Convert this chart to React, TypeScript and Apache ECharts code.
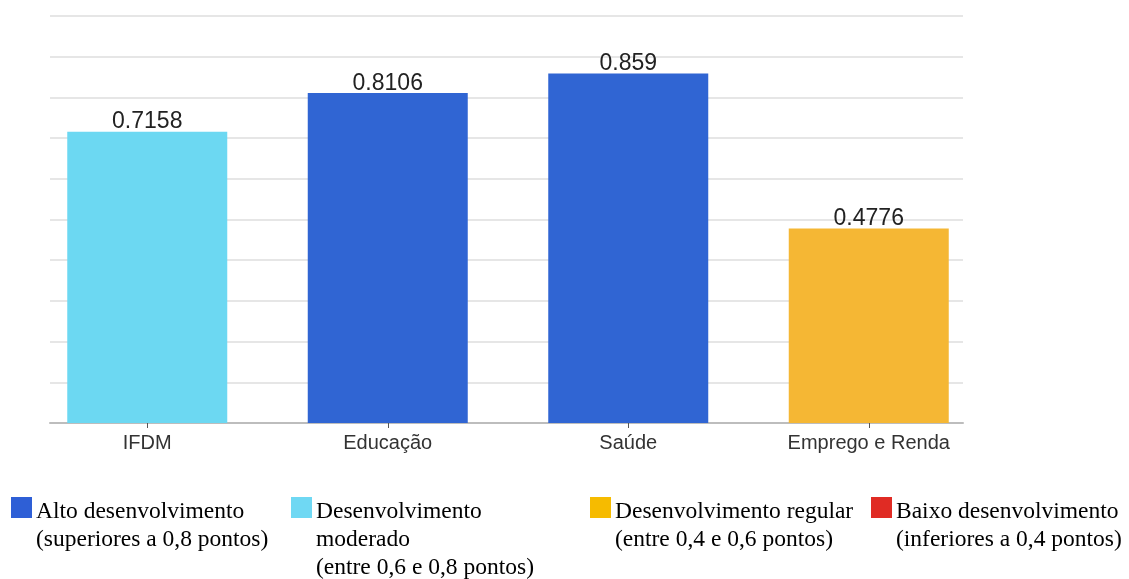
import React, { useEffect, useRef } from "react";
import * as echarts from "echarts";

const categories = ["IFDM", "Educação", "Saúde", "Emprego e Renda"];
const values = [0.7158, 0.8106, 0.859, 0.4776];
const barColors = ["#6CD8F2", "#3065D3", "#3065D3", "#F5B734"];

const legendColors = ["#2E5FD6", "#6FD8F3", "#F6BB00", "#E02B24"];
const legendTexts = [
  "Alto desenvolvimento\n(superiores a 0,8 pontos)",
  "Desenvolvimento\nmoderado\n(entre 0,6 e 0,8 pontos)",
  "Desenvolvimento regular\n(entre 0,4 e 0,6 pontos)",
  "Baixo desenvolvimento\n(inferiores a 0,4 pontos)",
];
const legendX = [11, 291, 590, 871];

export default function App() {
  const ref = useRef<HTMLDivElement>(null);
  useEffect(() => {
    if (!ref.current) return;
    const chart = echarts.init(ref.current, null, { renderer: "svg" });
    const graphic: any[] = [];
    legendTexts.forEach((t, i) => {
      graphic.push({
        type: "rect",
        shape: { x: legendX[i], y: 497, width: 21, height: 21 },
        style: { fill: legendColors[i] },
      });
      graphic.push({
        type: "text",
        x: legendX[i] + 25,
        y: 496,
        style: {
          text: t,
          font: "23.5px 'Liberation Serif', 'Times New Roman', serif",
          fill: "#000",
          lineHeight: 28,
          verticalAlign: "top",
          align: "left",
        },
      });
    });
    chart.setOption({
      animation: false,
      grid: [
        { left: 50, width: 913, top: 16, height: 407 },
        { left: 27, width: 962, top: 16, height: 407 },
      ],
      xAxis: [
        {
          type: "category",
          gridIndex: 0,
          data: categories,
          axisLine: { lineStyle: { color: "#bdbdbd", width: 2 } },
          axisTick: { show: false },
          axisLabel: { show: false },
        },
        {
          type: "category",
          gridIndex: 1,
          data: categories,
          axisLine: { show: false },
          axisTick: {
            show: true,
            alignWithLabel: true,
            length: 5,
            lineStyle: { color: "#555" },
          },
          axisLabel: {
            color: "#333",
            fontSize: 20,
            fontFamily: "'Liberation Sans', Arial, sans-serif",
            margin: 9,
          },
        },
      ],
      yAxis: [
        {
          type: "value",
          gridIndex: 0,
          min: 0,
          max: 1,
          interval: 0.1,
          axisLabel: { show: false },
          axisLine: { show: false },
          axisTick: { show: false },
          splitLine: { lineStyle: { color: "#e6e6e6", width: 2 } },
        },
        {
          type: "value",
          gridIndex: 1,
          min: 0,
          max: 1,
          show: false,
          splitLine: { show: false },
        },
      ],
      series: [
        {
          type: "bar",
          xAxisIndex: 1,
          yAxisIndex: 1,
          barWidth: 160,
          data: values.map((v, i) => ({ value: v, itemStyle: { color: barColors[i] } })),
          label: {
            show: true,
            position: "top",
            distance: 0,
            color: "#222",
            fontSize: 23,
            fontFamily: "'Liberation Sans', Arial, sans-serif",
          },
        },
      ],
      graphic,
    });
    return () => chart.dispose();
  }, []);
  return (
    <div
      ref={ref}
      style={{ position: "fixed", left: 0, top: 0, width: 1129, height: 579 }}
    />
  );
}
